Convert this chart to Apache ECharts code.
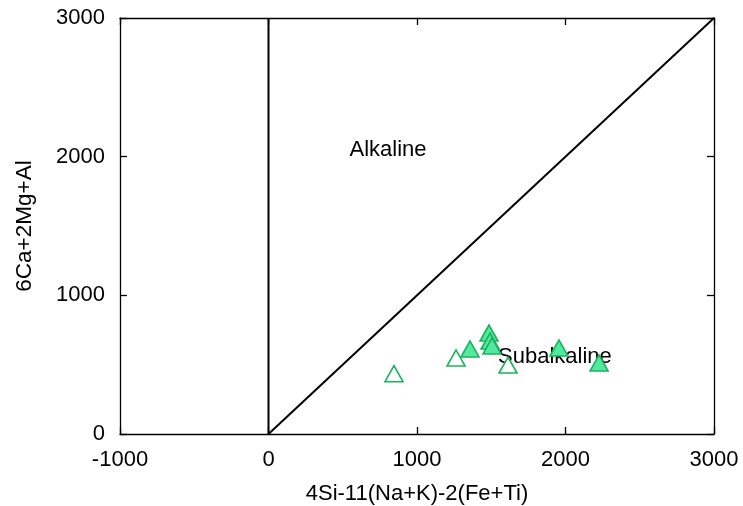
<!DOCTYPE html>
<html><head><meta charset="utf-8">
<script src="https://cdn.jsdelivr.net/npm/echarts@6/dist/echarts.min.js"></script>
<style>html,body{margin:0;padding:0;background:#fff}#c{width:743px;height:506px}</style>
</head><body><div id="c"></div>
<script>
const xTicks = [-1000, 0, 1000, 2000, 3000];
const yTicks = [0, 1000, 2000, 3000];
const hollowPts = [[845, 435], [1263, 548], [1613, 497]];
const filledPts = [[1357, 613], [1485, 728], [1492, 670], [1505, 635], [1956, 620], [2226, 512]];
const boundaryVertical = [[0, 0], [0, 3000]];
const boundaryDiagonal = [[0, 0], [3000, 3000]];
const fieldLabels = [["Alkaline", 805, 2048], ["Subalkaline", 1929, 555]];

const font = 'Liberation Sans, Arial, sans-serif';
const chart = echarts.init(document.getElementById('c'));
const axisCommon = {
  type: 'value', min: xTicks[0], max: xTicks[xTicks.length-1], interval: 1000,
  axisLine: {show: true, onZero: false, lineStyle: {color: '#000', width: 1.3}},
  axisTick: {show: true, inside: true, length: 7, lineStyle: {color: '#000', width: 1.3}},
  splitLine: {show: false}
};
const fmt = v => String(v);
chart.setOption({
  animation: false,
  grid: {left: 120, right: 29, top: 18, bottom: 72, show: false, containLabel: false, outerBoundsMode: 'none'},
  xAxis: [
    Object.assign({}, axisCommon, {
      position: 'bottom',
      axisLabel: {color: '#000', fontSize: 22, fontFamily: font, margin: 15, formatter: fmt},
      name: '4Si-11(Na+K)-2(Fe+Ti)', nameLocation: 'middle', nameGap: 49,
      nameTextStyle: {color: '#000', fontSize: 22, fontFamily: font}
    }),
    Object.assign({}, axisCommon, {position: 'top', axisLabel: {show: false}})
  ],
  yAxis: [
    Object.assign({}, axisCommon, {
      min: yTicks[0], max: yTicks[yTicks.length-1], position: 'left',
      axisLabel: {color: '#000', fontSize: 22, fontFamily: font, margin: 15, formatter: fmt},
      name: '6Ca+2Mg+Al', nameLocation: 'middle', nameGap: 84, nameRotate: 90,
      nameTextStyle: {color: '#000', fontSize: 22.5, fontFamily: font}
    }),
    Object.assign({}, axisCommon, {min: yTicks[0], max: yTicks[yTicks.length-1], position: 'right', axisLabel: {show: false}})
  ],
  series: [
    {type: 'line', data: boundaryVertical, symbol: 'none', lineStyle: {color: '#000', width: 2}, z: 2},
    {type: 'line', data: boundaryDiagonal, symbol: 'none', lineStyle: {color: '#000', width: 2}, z: 2},
    {type: 'scatter', z: 3, symbolSize: 1, itemStyle: {opacity: 0},
      data: fieldLabels.map(d => ({value: [d[1], d[2]], name: d[0]})),
      label: {show: true, position: 'inside', formatter: p => p.name, color: '#000', opacity: 1,
        textBorderWidth: 0, fontSize: 22, fontFamily: font}
    },
    {type: 'scatter', z: 5, data: hollowPts, symbol: 'triangle', symbolSize: [18, 16],
      itemStyle: {color: '#fff', borderColor: '#1db35c', borderWidth: 1.6, opacity: 1}},
    {type: 'scatter', z: 5, data: filledPts, symbol: 'triangle', symbolSize: [18, 16],
      itemStyle: {color: '#52e9a0', borderColor: '#1db35c', borderWidth: 1.6, opacity: 1}}
  ]
});
</script></body></html>
